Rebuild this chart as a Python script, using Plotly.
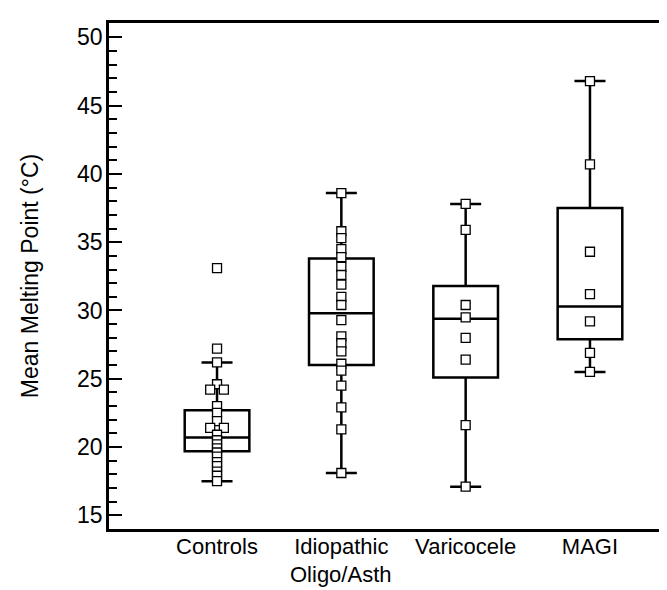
import plotly.graph_objects as go
from collections import Counter

categories = ["Controls", "Idiopathic", "Varicocele", "MAGI"]
category_second_line = ["", "Oligo/Asth", "", ""]

controls = [33.1, 27.2, 26.2, 24.6, 24.2, 24.2, 23.0, 22.5, 21.9, 21.4, 21.4, 20.9,
            20.5, 20.2, 19.9, 19.6, 19.3, 18.9, 18.6, 18.2, 17.9, 17.5]
idiopathic = [38.6, 35.8, 35.3, 34.5, 33.9, 33.2, 32.6, 31.9, 31.0, 30.4, 29.3,
              28.1, 27.6, 27.0, 26.1, 25.6, 24.5, 22.9, 21.3, 18.1]
varicocele = [37.8, 35.9, 30.4, 29.5, 28.0, 26.4, 21.6, 17.1]
magi = [46.8, 40.7, 34.3, 31.2, 29.2, 26.9, 25.5]

q1 = [19.7, 26.0, 25.1, 27.9]
median = [20.7, 29.8, 29.4, 30.3]
q3 = [22.7, 33.8, 31.8, 37.5]
lowerfence = [17.5, 18.1, 17.1, 25.5]
upperfence = [26.2, 38.6, 37.8, 46.8]

y_ticks = [15, 20, 25, 30, 35, 40, 45, 50]

groups = [controls, idiopathic, varicocele, magi]
positions = list(range(len(categories)))

fig = go.Figure()

fig.add_trace(go.Box(
    x=positions, q1=q1, median=median, q3=q3,
    lowerfence=lowerfence, upperfence=upperfence,
    width=0.52, whiskerwidth=0.48,
    fillcolor="rgba(0,0,0,0)",
    line=dict(color="black", width=2.5),
    boxpoints=False, hoverinfo="skip", showlegend=False,
))

for pos, vals in zip(positions, groups):
    counts = Counter(vals)
    seen = Counter()
    xs = []
    for v in vals:
        if counts[v] > 1:
            k = seen[v]
            seen[v] += 1
            xs.append(pos + (k - (counts[v] - 1) / 2) * 0.11)
        else:
            xs.append(pos)
    fig.add_trace(go.Scatter(
        x=xs, y=vals, mode="markers",
        marker=dict(symbol="square", size=9, color="white",
                    line=dict(color="black", width=1.3)),
        showlegend=False, cliponaxis=False,
    ))

font_family = "Liberation Sans, Arial, Helvetica, sans-serif"

for pos, txt in zip(positions, category_second_line):
    if txt:
        fig.add_annotation(x=pos, xref="x", y=0, yref="paper",
                           yshift=-45, yanchor="middle", text=txt,
                           showarrow=False, font=dict(size=22, family=font_family))

fig.update_layout(
    width=667, height=590,
    margin=dict(l=101, r=0, t=15, b=69),
    paper_bgcolor="white", plot_bgcolor="white",
    font=dict(family=font_family, size=23, color="black"),
    xaxis=dict(
        range=[-0.869, 3.684], automargin=False,
        tickvals=positions, ticktext=categories,
        tickfont=dict(size=22),
        showline=True, linecolor="black", linewidth=2.5, mirror=True,
        showgrid=False, zeroline=False, ticks="",
        ticklabelstandoff=-4,
    ),
    yaxis=dict(
        range=[14.0, 51.05], automargin=False,
        tickvals=y_ticks,
        showline=True, linecolor="black", linewidth=2.5,
        showgrid=False, zeroline=False,
        ticks="inside", ticklen=13, tickwidth=1.5, tickcolor="black",
        minor=dict(dtick=1, ticks="inside", ticklen=8, tickwidth=1.5, tickcolor="black", showgrid=False),
        ticklabelstandoff=-1,
        title=dict(text="Mean Melting Point (°C)", standoff=33,
                   font=dict(size=23)),
    ),
)

fig.write_html("out.html")
